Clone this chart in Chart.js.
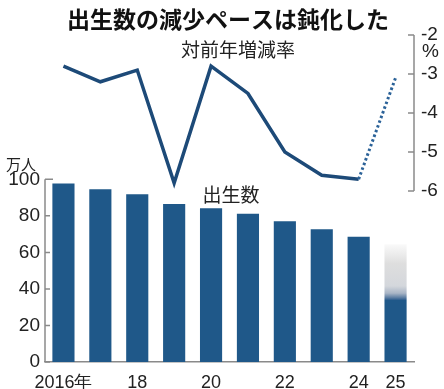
<!DOCTYPE html>
<html>
<head>
<meta charset="utf-8">
<script src="https://cdn.jsdelivr.net/npm/chart.js@4"></script>
<style>
  html, body { margin: 0; padding: 0; background: #fff; }
  #wrap { width: 444px; height: 389px; }
</style>
</head>
<body>
<div id="wrap"><canvas id="myChart" width="444" height="389"></canvas></div>
<script>
// data
const years = ['2016', '2017', '2018', '2019', '2020', '2021', '2022', '2023', '2024', '2025'];
const xLabels = ['2016年', '', '18', '', '20', '', '22', '', '24', '25'];
const births = [97.7, 94.6, 91.8, 86.5, 84.1, 81.2, 77.0, 72.7, 68.6, 34.0];   // 万人 (2025 = first part)
const birthsEstimate = [null, null, null, null, null, null, null, null, null, 30.5]; // faded part of 2025
const changeRate = [-2.8, -3.2, -2.9, -5.8, -2.8, -3.5, -5.0, -5.6, -5.7, -3.1]; // %
const leftTicks = [0, 20, 40, 60, 80, 100];
const rightTicks = [-6, -5, -4, -3, -2];

const numFont = '"Liberation Sans Narrow", "Liberation Sans", sans-serif';
const jpFont = '"Noto Sans CJK JP", sans-serif';

// draws the title, short axis lines, inner tick marks and the labels inside the plot
const axisFrame = {
    id: 'axisFrame',
    afterDraw(chart) {
        const {ctx, scales: {y, y2}} = chart;
        ctx.save();
        ctx.strokeStyle = '#8a8a8a';
        ctx.lineWidth = 1.5;

        // left axis (births)
        const lx = y.right;
        ctx.beginPath();
        ctx.moveTo(lx, y.getPixelForValue(0));
        ctx.lineTo(lx, y.getPixelForValue(100));
        leftTicks.forEach(v => {
            const py = y.getPixelForValue(v);
            ctx.moveTo(lx, py);
            ctx.lineTo(lx + (v === 100 ? 8 : 5), py);
        });
        ctx.stroke();

        // right axis (rate)
        const rx = y2.left;
        ctx.beginPath();
        ctx.moveTo(rx, y2.getPixelForValue(-2));
        ctx.lineTo(rx, y2.getPixelForValue(-6));
        rightTicks.forEach(v => {
            const py = y2.getPixelForValue(v);
            ctx.moveTo(rx, py);
            ctx.lineTo(rx - 6, py);
        });
        ctx.stroke();

        // title
        ctx.fillStyle = '#111';
        ctx.textBaseline = 'middle';
        ctx.textAlign = 'center';
        ctx.font = 'bold 23px ' + jpFont;
        ctx.fillText('出生数の減少ペースは鈍化した', 228, 19);

        // labels
        ctx.fillStyle = '#222';
        ctx.font = '19px ' + jpFont;
        ctx.fillText('対前年増減率', 238, 50);
        ctx.fillText('出生数', 231, 195);
        ctx.font = '15px ' + jpFont;
        ctx.textAlign = 'left';
        ctx.fillText('万人', 6, 164);
        ctx.font = '19px ' + numFont;
        ctx.fillText('%', rx + 8, y2.getPixelForValue(-2) + 17);
        ctx.restore();
    }
};

const ctx = document.getElementById('myChart');

const myChart = new Chart(ctx, {
    type: 'bar',
    data: {
        labels: years,
        datasets: [{
            type: 'line',
            label: '対前年増減率',
            data: changeRate,
            yAxisID: 'y2',
            borderColor: '#1d4a78',
            borderWidth: 3.5,
            pointRadius: 0,
            tension: 0,
            order: 0,
            segment: {
                borderDash: c => c.p0DataIndex === 8 ? [2.5, 2.5] : undefined,
                borderWidth: c => c.p0DataIndex === 8 ? 3 : 3.5,
                borderColor: c => c.p0DataIndex === 8 ? '#2b6298' : '#1d4a78'
            }
        },
        {
            label: '出生数',
            data: births,
            yAxisID: 'y',
            backgroundColor: '#1f5889',
            barPercentage: 0.6,
            categoryPercentage: 1,
            order: 1
        },
        {
            label: '出生数(推計)',
            data: birthsEstimate,
            yAxisID: 'y',
            barPercentage: 0.6,
            categoryPercentage: 1,
            order: 1,
            backgroundColor: c => {
                const chart = c.chart;
                if (!chart.chartArea) return '#ddd';
                const y = chart.scales.y;
                const g = chart.ctx.createLinearGradient(0, y.getPixelForValue(births[9]), 0,
                    y.getPixelForValue(births[9] + birthsEstimate[9]));
                g.addColorStop(0, '#2f5e8e');
                g.addColorStop(0.04, '#5d7ea3');
                g.addColorStop(0.12, '#a9b5c6');
                g.addColorStop(0.25, '#d4d7dc');
                g.addColorStop(0.65, '#dedede');
                g.addColorStop(1, '#fafafa');
                return g;
            }
        }]
    },
    options: {
        responsive: false,
        animation: false,
        layout: { padding: { top: 35 } },
        scales: {
            x: {
                stacked: true,
                grid: { display: false },
                border: { display: true, color: '#8a8a8a', width: 1.5 },
                ticks: {
                    autoSkip: false,
                    maxRotation: 0,
                    padding: 2,
                    color: '#222',
                    font: { family: numFont, size: 18 },
                    callback: (v, i) => xLabels[i]
                },
                afterFit: s => { s.height = 27; }
            },
            y: {
                position: 'left',
                stacked: true,
                min: 0,
                max: 179,
                grid: { display: false, drawTicks: false },
                border: { display: false },
                afterBuildTicks: s => { s.ticks = leftTicks.map(v => ({value: v})); },
                ticks: {
                    padding: 5,
                    color: '#222',
                    font: { family: numFont, size: 19 }
                },
                afterFit: s => { s.width = 45; }
            },
            y2: {
                position: 'right',
                min: -10.39,
                max: -2,
                grid: { display: false, drawTicks: false },
                border: { display: false },
                afterBuildTicks: s => { s.ticks = rightTicks.map(v => ({value: v})); },
                ticks: {
                    padding: 7,
                    color: '#222',
                    font: { family: numFont, size: 19 }
                },
                afterFit: s => { s.width = 30; }
            }
        },
        plugins: {
            legend: { display: false },
            tooltip: { enabled: false },
            title: { display: false }
        }
    },
    plugins: [axisFrame]
});
</script>
</body>
</html>
